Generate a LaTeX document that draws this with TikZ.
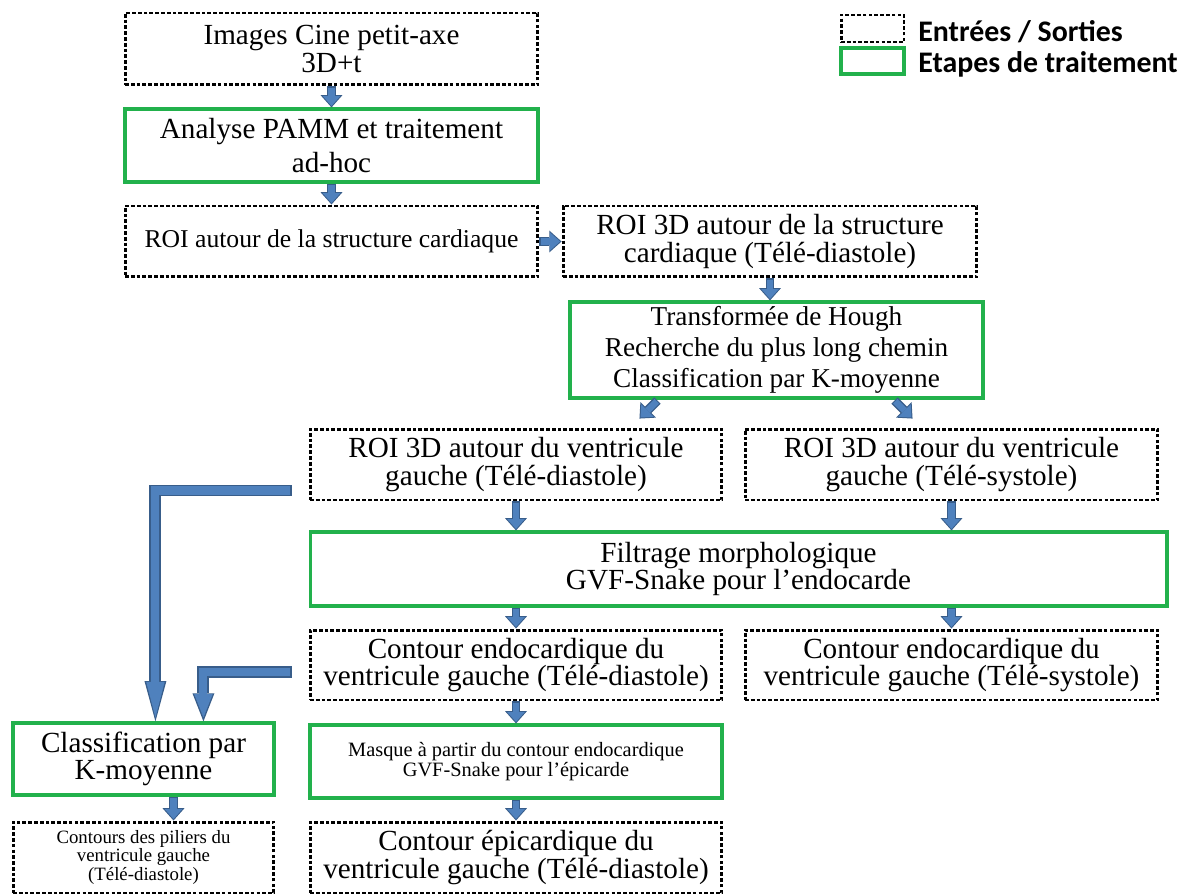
\documentclass[tikz,border=0pt]{standalone}
\usepackage{fontspec}
\setmainfont{Liberation Serif}
\newfontfamily\legende{Carlito}
\usetikzlibrary{arrows.meta,calc}
\definecolor{bleufleche}{RGB}{79,129,189}
\definecolor{bordfleche}{RGB}{56,93,138}
\definecolor{vert}{RGB}{34,177,76}
\newcommand{\grand}{\fontsize{16.6}{15.5}\selectfont}
\newcommand{\petit}{\fontsize{11.6}{11.5}\selectfont}

\begin{document}
\begin{tikzpicture}[x=0.02cm, y=-0.02cm,
    entree/.style={draw=black, line width=1.7pt, dash pattern=on 2.1pt off 1.2pt, inner sep=0pt, align=center},
    etape/.style={draw=vert, line width=1.8pt, inner sep=0pt, align=center},
    bloc/.style={draw=bordfleche, line width=5.1pt, -{Triangle[width=12.5pt,length=7pt,line width=0pt]},
        postaction={draw=bleufleche, line width=3.6pt, shorten <=0.6pt, shorten >=0.85pt,
        -{Triangle[width=10pt,length=5.6pt,line width=0pt]}}},
    grosbloc/.style 2 args={draw=bordfleche, line width=6.8pt, -{Triangle[width=12.5pt,length=#1,line width=0pt]},
        postaction={draw=bleufleche, line width=4.6pt, shorten <=0.6pt, shorten >=2.2pt,
        -{Triangle[width=10.5pt,length=#2,line width=0pt]}}}]

    \useasboundingbox (0,0) rectangle (1187,895);

    % legende
    \node[entree, minimum width=1.26cm, minimum height=0.54cm] (legE) at (872.5,28.5) {};
    \node[etape, minimum width=1.26cm, minimum height=0.52cm] (legT) at (872.5,61) {};
    \node[anchor=west, inner sep=0pt, font=\legende\bfseries\fontsize{17}{18}\selectfont] (legEtxt) at (918,32) {Entrées / Sorties};
    \node[anchor=west, inner sep=0pt, font=\legende\bfseries\fontsize{17}{18}\selectfont] (legTtxt) at (918,64) {Etapes de traitement};

    % chaine de traitement
    \node[entree, minimum width=8.26cm, minimum height=1.44cm, font=\fontsize{16.6}{14.2}\selectfont] (imgs) at (331.5,49) {Images Cine petit-axe\\3D+t};
    \node[etape, minimum width=8.26cm, minimum height=1.46cm, font=\fontsize{16.6}{19.3}\selectfont] (pamm) at (331.5,145.5) {Analyse PAMM et traitement\\ad-hoc};
    \node[entree, minimum width=8.26cm, minimum height=1.42cm, font=\fontsize{14.6}{15}\selectfont] (roi) at (331.5,241.5) {ROI autour de la structure cardiaque};
    \node[entree, minimum width=8.28cm, minimum height=1.42cm, font=\grand] (roistruct) at (770,241.5) {ROI 3D autour de la structure\\cardiaque (Télé-diastole)};
    \node[etape, minimum width=8.26cm, minimum height=1.92cm, font=\fontsize{15.5}{17.6}\selectfont] (hough) at (776.5,350) {Transformée de Hough\\Recherche du plus long chemin\\Classification par K-moyenne};
    \node[entree, minimum width=8.24cm, minimum height=1.42cm, font=\grand] (roivgd) at (516,464.5) {ROI 3D autour du ventricule\\gauche (Télé-diastole)};
    \node[entree, minimum width=8.26cm, minimum height=1.42cm, font=\grand] (roivgs) at (951.5,464.5) {ROI 3D autour du ventricule\\gauche (Télé-systole)};
    \node[etape, minimum width=17.14cm, minimum height=1.48cm, font=\grand] (filtrage) at (738.5,569) {Filtrage morphologique\\GVF-Snake pour l’endocarde};
    \node[entree, minimum width=8.24cm, minimum height=1.40cm, font=\grand] (endod) at (516,665) {Contour endocardique du\\ventricule gauche (Télé-diastole)};
    \node[entree, minimum width=8.26cm, minimum height=1.40cm, font=\grand] (endos) at (951.5,665) {Contour endocardique du\\ventricule gauche (Télé-systole)};
    \node[etape, minimum width=5.22cm, minimum height=1.44cm, font=\grand] (classif) at (143.5,759) {Classification par\\K-moyenne};
    \node[etape, minimum width=8.24cm, minimum height=1.46cm, font=\petit] (masque) at (516,761.5) {Masque à partir du contour endocardique\\GVF-Snake pour l’épicarde};
    \node[entree, minimum width=5.22cm, minimum height=1.42cm, font=\fontsize{10.7}{9}\selectfont] (piliers) at (143.5,857.5) {Contours des piliers du\\ventricule gauche\\(Télé-diastole)};
    \node[entree, minimum width=8.24cm, minimum height=1.42cm, font=\fontsize{16.6}{13.6}\selectfont] (epi) at (516,857.5) {Contour épicardique du\\ventricule gauche (Télé-diastole)};

    % fleches
    \draw[bloc] (imgs.south) -- (pamm.north);
    \draw[bloc] (pamm.south) -- (roi.north);
    \draw[bloc] (roi.east) -- (roistruct.west);
    \draw[bloc] (roistruct.south) -- (roistruct.south |- hough.north);
    \coordinate (hg) at ($(hough.south west)+(89,1)$);
    \coordinate (hd) at ($(hough.south east)+(-90,1)$);
    \coordinate (vgd) at ($(hg)+(-18,18)$);
    \coordinate (vgs) at ($(hd)+(18,18)$);
    \draw[bloc] (hg) -- (vgd);
    \draw[bloc] (hd) -- (vgs);
    \draw[bloc] (roivgd.south) -- (roivgd.south |- filtrage.north);
    \draw[bloc] (roivgs.south) -- (roivgs.south |- filtrage.north);
    \draw[bloc] (filtrage.south -| endod.north) -- (endod.north);
    \draw[bloc] (filtrage.south -| endos.north) -- (endos.north);
    \draw[bloc] (endod.south) -- (masque.north);
    \draw[bloc] (masque.south) -- (epi.north);
    \draw[bloc] ($(classif.south)+(30,0)$) -- ($(piliers.north)+(30,0)$);

    \draw[grosbloc={23pt}{20.3pt}] ($(roivgd.south west)+(-17,-11)$) -| ($(classif.north west)+(144,0)$);
    \draw[grosbloc={16pt}{13.3pt}] ($(endod.west)+(-17,7)$) -| ($(classif.north west)+(192,0)$);

\end{tikzpicture}
\end{document}
